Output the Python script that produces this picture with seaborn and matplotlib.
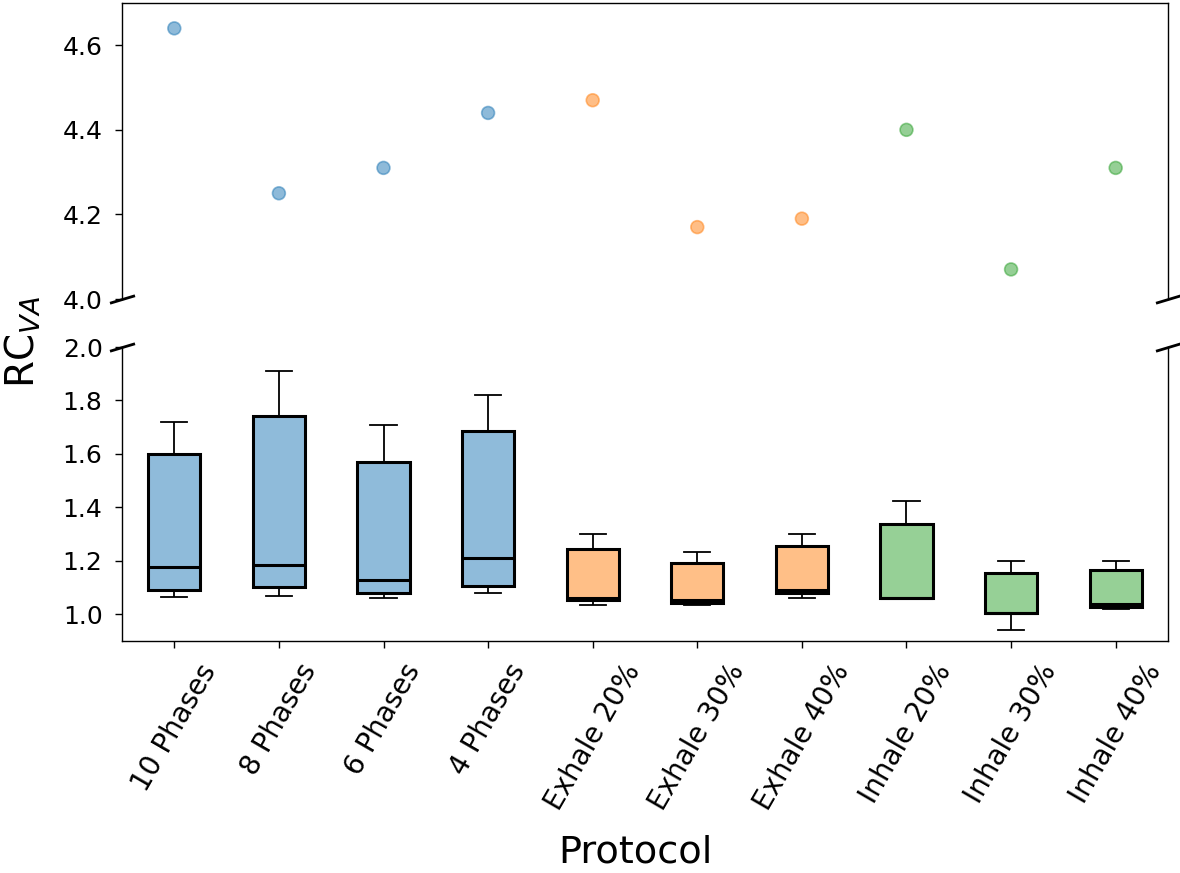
import numpy as np
import pandas as pd
import matplotlib
matplotlib.use("Agg")
import matplotlib.pyplot as plt
import seaborn as sns

# ================= DATA =================
protocols = ["10 Phases", "8 Phases", "6 Phases", "4 Phases",
             "Exhale 20%", "Exhale 30%", "Exhale 40%",
             "Inhale 20%", "Inhale 30%", "Inhale 40%"]
groups = ["Phases"] * 4 + ["Exhale"] * 3 + ["Inhale"] * 3

# five-number summary
whisker_low = [1.064, 1.069, 1.061, 1.078, 1.036, 1.033, 1.062, 1.060, 0.940, 1.021]
q1 = [1.090, 1.101, 1.080, 1.106, 1.052, 1.042, 1.078, 1.060, 1.005, 1.027]
median = [1.177, 1.183, 1.127, 1.210, 1.059, 1.055, 1.090, 1.060, 1.005, 1.040]
q3 = [1.599, 1.742, 1.569, 1.685, 1.243, 1.190, 1.255, 1.336, 1.155, 1.165]
whisker_high = [1.719, 1.911, 1.708, 1.820, 1.302, 1.232, 1.302, 1.424, 1.201, 1.201]

# one outlier per protocol (upper panel)
outliers = [4.64, 4.25, 4.31, 4.44, 4.47, 4.17, 4.19, 4.40, 4.07, 4.31]

base_colors = {"Phases": "#1f77b4", "Exhale": "#ff7f0e", "Inhale": "#2ca02c"}

# ================= BUILD TABLES =================
rows = []
for i, p in enumerate(protocols):
    for v in [whisker_low[i], q1[i], median[i], q3[i], whisker_high[i]]:
        rows.append({"protocol": p, "group": groups[i], "value": v})
box_df = pd.DataFrame(rows)

out_df = pd.DataFrame({"protocol": protocols, "group": groups, "value": outliers})

def lighten(c, a=0.5):
    rgb = np.array(matplotlib.colors.to_rgb(c))
    return tuple(rgb * a + (1 - a))

box_palette = {k: lighten(v) for k, v in base_colors.items()}

# ================= FIGURE =================
fig = plt.figure(figsize=(11.8, 8.73), dpi=100)
ax_top = fig.add_axes([0.1034, 0.6575, 0.8864, 0.3391])
ax_bot = fig.add_axes([0.1034, 0.2658, 0.8864, 0.3367])

sns.boxplot(data=box_df, x="protocol", y="value", hue="group",
            order=protocols, palette=box_palette, saturation=1,
            dodge=False, width=0.5, showfliers=False, legend=False,
            linecolor="black", linewidth=1.3,
            boxprops=dict(linewidth=2.2), medianprops=dict(linewidth=2.2),
            ax=ax_bot)

sns.scatterplot(data=out_df, x="protocol", y="value", hue="group",
                palette=base_colors, alpha=0.5, s=85, edgecolor="face",
                linewidth=1.2, legend=False, ax=ax_top)

# ================= AXES =================
ax_top.set_ylim(4.0, 4.7)
ax_top.set_yticks([4.0, 4.2, 4.4, 4.6])
ax_top.set_xlim(-0.5, 9.5)
ax_top.set_xticks([])
ax_top.set_xlabel("")
ax_top.set_ylabel("")
ax_top.spines["bottom"].set_visible(False)

ax_bot.set_ylim(0.9, 2.0)
ax_bot.set_yticks([1.0, 1.2, 1.4, 1.6, 1.8, 2.0])
ax_bot.set_xlim(-0.5, 9.5)
ax_bot.spines["top"].set_visible(False)
ax_bot.set_ylabel("")
ax_bot.set_xlabel("Protocol", fontsize=27.5, labelpad=14)
ax_bot.xaxis.label.set_x(0.491)
ax_bot.set_xticks(range(len(protocols)))
ax_bot.set_xticklabels(protocols, rotation=60, fontsize=20)
ax_bot.tick_params(axis="x", length=5, width=1.0, pad=8)

for ax in (ax_top, ax_bot):
    ax.tick_params(axis="y", labelsize=18, length=5, width=1.0, pad=9)
    for s in ax.spines.values():
        s.set_linewidth(1.0)

# break marks
d = 0.3
kw = dict(marker=[(-1, -d), (1, d)], markersize=18, linestyle="none",
          color="k", mec="k", mew=2, clip_on=False)
ax_top.plot([0, 1], [0, 0], transform=ax_top.transAxes, **kw)
ax_bot.plot([0, 1], [1, 1], transform=ax_bot.transAxes, **kw)

fig.text(0.019, 0.608, "RC$_{VA}$", rotation=90, fontsize=28,
         ha="center", va="center")

fig.savefig("out.png", dpi=100)
